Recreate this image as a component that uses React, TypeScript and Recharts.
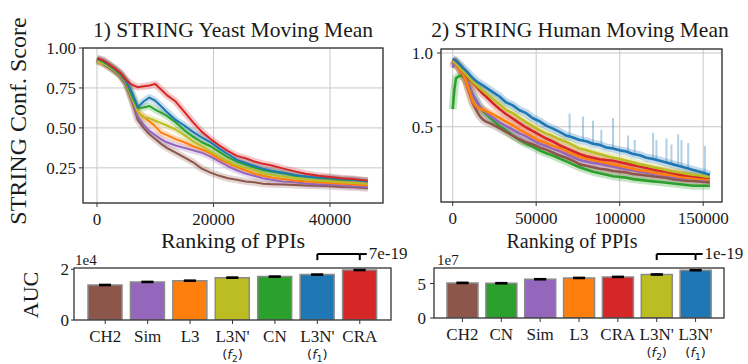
import React from 'react';
import {
  LineChart, Line, BarChart, Bar, XAxis, YAxis, CartesianGrid,
  ReferenceLine, ErrorBar, Cell,
} from 'recharts';

const serif = "'Liberation Serif', 'Times New Roman', serif";
const ink = '#1a1a1a';
const spine = '#333';

// matplotlib tab10
const blue = '#1f77b4', orange = '#ff7f0e', green = '#2ca02c', red = '#d62728',
  purple = '#9467bd', brown = '#8c564b', olive = '#bcbd22';

// ---- 1) yeast moving mean ----
const yeastX = [0, 1000, 2000, 3000, 4000, 5000, 6000, 7000, 8000, 9000, 10000, 11000, 12000, 13500, 15000, 16500, 18000, 19500, 21000, 22500, 24000, 25500, 27000, 28500, 30000, 32000, 34000, 36000, 38000, 40000, 42000, 44000, 46500];
const yeastCRA = [0.935, 0.925, 0.9, 0.875, 0.845, 0.8, 0.77, 0.755, 0.76, 0.765, 0.775, 0.74, 0.705, 0.665, 0.6, 0.535, 0.475, 0.43, 0.39, 0.355, 0.325, 0.31, 0.29, 0.275, 0.265, 0.245, 0.228, 0.212, 0.2, 0.193, 0.185, 0.18, 0.17];
const yeastF1 = [0.935, 0.92, 0.897, 0.87, 0.84, 0.795, 0.72, 0.63, 0.665, 0.69, 0.67, 0.635, 0.6, 0.55, 0.515, 0.475, 0.44, 0.41, 0.37, 0.335, 0.3, 0.28, 0.262, 0.245, 0.232, 0.22, 0.205, 0.196, 0.19, 0.186, 0.18, 0.176, 0.165];
const yeastCN = [0.93, 0.915, 0.893, 0.865, 0.835, 0.79, 0.7, 0.625, 0.628, 0.637, 0.615, 0.595, 0.575, 0.535, 0.485, 0.445, 0.41, 0.385, 0.35, 0.315, 0.29, 0.27, 0.252, 0.236, 0.226, 0.214, 0.2, 0.194, 0.186, 0.181, 0.176, 0.174, 0.168];
const yeastF2 = [0.915, 0.905, 0.885, 0.86, 0.83, 0.785, 0.69, 0.6, 0.565, 0.56, 0.545, 0.53, 0.515, 0.49, 0.455, 0.415, 0.385, 0.35, 0.32, 0.29, 0.265, 0.25, 0.235, 0.215, 0.205, 0.195, 0.185, 0.176, 0.17, 0.165, 0.16, 0.155, 0.15];
const yeastL3 = [0.925, 0.91, 0.89, 0.865, 0.835, 0.785, 0.69, 0.6, 0.57, 0.54, 0.51, 0.47, 0.455, 0.43, 0.41, 0.385, 0.365, 0.34, 0.305, 0.28, 0.255, 0.235, 0.215, 0.2, 0.19, 0.18, 0.17, 0.165, 0.16, 0.155, 0.15, 0.145, 0.14];
const yeastSim = [0.92, 0.905, 0.885, 0.86, 0.83, 0.78, 0.68, 0.57, 0.52, 0.48, 0.455, 0.43, 0.41, 0.39, 0.375, 0.36, 0.345, 0.32, 0.29, 0.26, 0.235, 0.215, 0.2, 0.185, 0.175, 0.165, 0.16, 0.15, 0.146, 0.145, 0.14, 0.135, 0.13];
const yeastCH2 = [0.92, 0.905, 0.88, 0.855, 0.825, 0.775, 0.67, 0.55, 0.5, 0.46, 0.43, 0.4, 0.375, 0.345, 0.315, 0.285, 0.245, 0.22, 0.2, 0.185, 0.175, 0.165, 0.16, 0.15, 0.148, 0.145, 0.143, 0.14, 0.138, 0.135, 0.13, 0.128, 0.122];

// ---- 2) human moving mean ----
const humanX = [0, 1000, 2000, 4000, 6000, 8000, 10000, 12000, 14000, 16000, 18000, 20000, 24000, 28000, 32000, 36000, 40000, 44000, 48000, 52000, 56000, 60000, 64000, 68000, 72000, 76000, 80000, 84000, 88000, 92000, 96000, 100000, 104000, 108000, 112000, 116000, 120000, 124000, 128000, 132000, 136000, 140000, 144000, 148000, 152000, 154000];
const humanF1 = [0.96, 0.955, 0.945, 0.925, 0.9, 0.88, 0.855, 0.83, 0.81, 0.795, 0.78, 0.765, 0.735, 0.705, 0.665, 0.645, 0.612, 0.592, 0.558, 0.537, 0.508, 0.487, 0.465, 0.44, 0.427, 0.41, 0.402, 0.385, 0.377, 0.36, 0.352, 0.34, 0.332, 0.315, 0.307, 0.29, 0.282, 0.27, 0.257, 0.245, 0.232, 0.22, 0.207, 0.195, 0.182, 0.175];
const humanF2 = [0.945, 0.94, 0.93, 0.905, 0.88, 0.855, 0.83, 0.805, 0.785, 0.765, 0.745, 0.725, 0.69, 0.652, 0.615, 0.592, 0.56, 0.532, 0.505, 0.477, 0.455, 0.437, 0.415, 0.397, 0.375, 0.352, 0.34, 0.327, 0.315, 0.302, 0.29, 0.282, 0.27, 0.257, 0.245, 0.237, 0.225, 0.217, 0.205, 0.197, 0.19, 0.182, 0.175, 0.17, 0.162, 0.16];
const humanCRA = [0.95, 0.945, 0.935, 0.91, 0.88, 0.85, 0.82, 0.8, 0.775, 0.75, 0.725, 0.705, 0.66, 0.62, 0.585, 0.555, 0.525, 0.495, 0.47, 0.445, 0.42, 0.4, 0.375, 0.355, 0.335, 0.315, 0.3, 0.29, 0.28, 0.275, 0.27, 0.26, 0.25, 0.24, 0.23, 0.22, 0.21, 0.2, 0.195, 0.185, 0.175, 0.17, 0.165, 0.16, 0.155, 0.155];
const humanL3 = [0.95, 0.94, 0.925, 0.895, 0.86, 0.81, 0.74, 0.67, 0.64, 0.625, 0.615, 0.605, 0.585, 0.56, 0.535, 0.51, 0.48, 0.455, 0.43, 0.405, 0.39, 0.37, 0.355, 0.335, 0.315, 0.295, 0.285, 0.275, 0.265, 0.255, 0.245, 0.235, 0.225, 0.215, 0.205, 0.2, 0.19, 0.18, 0.175, 0.17, 0.16, 0.155, 0.15, 0.148, 0.145, 0.145];
const humanSim = [0.9, 0.93, 0.93, 0.895, 0.86, 0.82, 0.77, 0.72, 0.68, 0.64, 0.615, 0.595, 0.56, 0.53, 0.505, 0.48, 0.455, 0.435, 0.41, 0.385, 0.37, 0.35, 0.335, 0.315, 0.295, 0.275, 0.265, 0.255, 0.25, 0.24, 0.23, 0.22, 0.21, 0.205, 0.195, 0.19, 0.18, 0.175, 0.17, 0.16, 0.155, 0.15, 0.148, 0.145, 0.14, 0.14];
const humanCH2 = [0.95, 0.94, 0.925, 0.895, 0.855, 0.81, 0.73, 0.66, 0.615, 0.575, 0.55, 0.535, 0.515, 0.49, 0.465, 0.44, 0.415, 0.395, 0.38, 0.36, 0.345, 0.325, 0.305, 0.29, 0.27, 0.245, 0.235, 0.225, 0.215, 0.21, 0.2, 0.195, 0.19, 0.18, 0.175, 0.17, 0.165, 0.16, 0.155, 0.145, 0.14, 0.135, 0.132, 0.13, 0.125, 0.125];
const humanCN = [0.62, 0.75, 0.83, 0.845, 0.845, 0.82, 0.77, 0.72, 0.68, 0.64, 0.61, 0.585, 0.545, 0.505, 0.475, 0.44, 0.41, 0.385, 0.365, 0.34, 0.32, 0.305, 0.285, 0.265, 0.245, 0.225, 0.21, 0.195, 0.185, 0.175, 0.165, 0.16, 0.155, 0.145, 0.14, 0.135, 0.13, 0.125, 0.12, 0.115, 0.11, 0.105, 0.1, 0.1, 0.1, 0.1];
// light blue spikes of the L3N'(f1) band
const spikeX = [70000, 78000, 84000, 89000, 96000, 105000, 109000, 120000, 122000, 128000, 131000, 135000, 137000, 141000, 151000];
const spikeLo = [0.43, 0.405, 0.385, 0.37, 0.35, 0.325, 0.315, 0.28, 0.275, 0.255, 0.25, 0.235, 0.23, 0.215, 0.185];
const spikeHi = [0.59, 0.57, 0.54, 0.48, 0.56, 0.44, 0.41, 0.46, 0.41, 0.42, 0.38, 0.45, 0.41, 0.39, 0.37];

// ---- AUC bars ----
const yeastMethods = ['CH2', 'Sim', 'L3', "L3N'(f2)", 'CN', "L3N'(f1)", 'CRA'];
const yeastAuc = [13800, 15000, 15500, 16700, 17100, 17900, 19700];
const yeastErr = [130, 120, 110, 140, 120, 110, 130];
const humanMethods = ['CH2', 'CN', 'Sim', 'L3', 'CRA', "L3N'(f2)", "L3N'(f1)"];
const humanAuc = [50900000, 50400000, 56200000, 58100000, 59600000, 63100000, 69300000];
const humanErr = [500000, 500000, 450000, 450000, 450000, 450000, 500000];

const methodColor: Record<string, string> = {
  CH2: brown, Sim: purple, L3: orange, "L3N'(f2)": olive, CN: green, "L3N'(f1)": blue, CRA: red,
};

type S = { key: string; color: string; values: number[] };
const yeastSeries: S[] = [
  { key: 'ch2', color: brown, values: yeastCH2 },
  { key: 'sim', color: purple, values: yeastSim },
  { key: 'l3', color: orange, values: yeastL3 },
  { key: 'f2', color: olive, values: yeastF2 },
  { key: 'cn', color: green, values: yeastCN },
  { key: 'f1', color: blue, values: yeastF1 },
  { key: 'cra', color: red, values: yeastCRA },
];
const humanSeries: S[] = [
  { key: 'cn', color: green, values: humanCN },
  { key: 'ch2', color: brown, values: humanCH2 },
  { key: 'sim', color: purple, values: humanSim },
  { key: 'l3', color: orange, values: humanL3 },
  { key: 'cra', color: red, values: humanCRA },
  { key: 'f2', color: olive, values: humanF2 },
  { key: 'f1', color: blue, values: humanF1 },
];

const toRows = (xs: number[], series: S[]) =>
  xs.map((x, i) => {
    const r: Record<string, number> = { x };
    series.forEach((s) => { r[s.key] = s.values[i]; });
    return r;
  });

const yeastRows = toRows(yeastX, yeastSeries);
const humanRows = toRows(humanX, humanSeries);
const spikeRows = spikeX.flatMap((x, i) => [
  { x, y: spikeLo[i] }, { x, y: spikeHi[i] }, { x, y: null },
]);
const yeastBars = yeastMethods.map((name, i) => ({ name, auc: yeastAuc[i], err: yeastErr[i] }));
const humanBars = humanMethods.map((name, i) => ({ name, auc: humanAuc[i], err: humanErr[i] }));

const tickFont = { fontFamily: serif, fontSize: 17, fill: ink };

function seriesLines(series: S[], bandW: number, lineW: number, bandOp: number) {
  const bands = series.map((s) => (
    <Line key={'b' + s.key} dataKey={s.key} stroke={s.color} strokeOpacity={bandOp} strokeWidth={bandW}
      strokeLinejoin="round" dot={false} activeDot={false} isAnimationActive={false} />
  ));
  const mains = series.map((s) => (
    <Line key={'m' + s.key} dataKey={s.key} stroke={s.color} strokeWidth={lineW}
      strokeLinejoin="round" dot={false} activeDot={false} isAnimationActive={false} />
  ));
  return [...bands, ...mains];
}

function MethodTick({ x, y, payload }: any) {
  const v: string = payload.value;
  const m = v.match(/^(.*)\(f(\d)\)$/);
  return (
    <g transform={`translate(${x},${y})`}>
      <text textAnchor="middle" y={16} fontFamily={serif} fontSize={17} fill={ink}>{m ? m[1] : v}</text>
      {m && (
        <text textAnchor="middle" y={33} fontFamily="'DejaVu Sans', sans-serif" fontSize={13} fill={ink}>
          (<tspan fontStyle="italic">f</tspan><tspan fontSize={9} dy={3}>{m[2]}</tspan><tspan dy={-3}>)</tspan>
        </text>
      )}
    </g>
  );
}

const pValueLabel = (txt: string) => (props: any) => {
  const vb = props.viewBox || {};
  const xe = (vb.x || 0) + (vb.width || 0);
  const y = vb.y || 0;
  return (
    <g>
      <line x1={xe} x2={xe + 7} y1={y} y2={y} stroke="#000" strokeWidth={2} />
      <text x={xe + 9} y={y} dy={5} fontFamily={serif} fontSize={17} fill={ink}>{txt}</text>
    </g>
  );
};

export default function App() {
  return (
    <div style={{ position: 'absolute', left: 0, top: 0, width: 748, height: 364, background: '#fff', overflow: 'hidden' }}>
      <div style={{ position: 'absolute', left: 0, top: 0 }}>
        <LineChart width={400} height={260} data={yeastRows} margin={{ top: 48, right: 17, bottom: 27, left: 23 }}>
          <CartesianGrid stroke="#c8c8c8" />
          <XAxis dataKey="x" type="number" domain={[-2400, 49100]} ticks={[0, 20000, 40000]} allowDataOverflow
            height={30} tickSize={4} tickMargin={6} axisLine={false} tickLine={{ stroke: spine }} tick={tickFont} />
          <YAxis type="number" domain={[0.03, 1]} ticks={[0.25, 0.5, 0.75, 1]} allowDataOverflow width={60}
            tickSize={4} tickMargin={3} axisLine={false} tickLine={{ stroke: spine }} tick={tickFont}
            tickFormatter={(v: number) => v.toFixed(2)} />
          {seriesLines(yeastSeries, 7, 2, 0.25)}
        </LineChart>
      </div>

      <div style={{ position: 'absolute', left: 380, top: 0 }}>
        <LineChart width={368} height={260} data={humanRows} margin={{ top: 49, right: 26, bottom: 28, left: 11 }}>
          <CartesianGrid stroke="#c8c8c8" />
          <XAxis dataKey="x" type="number" domain={[-7000, 161250]} ticks={[0, 50000, 100000, 150000]} allowDataOverflow
            height={30} tickSize={4} tickMargin={6} axisLine={false} tickLine={{ stroke: spine }} tick={tickFont} />
          <YAxis type="number" domain={[-0.01, 1.027]} ticks={[0.5, 1]} allowDataOverflow width={50}
            tickSize={4} tickMargin={4} axisLine={false} tickLine={{ stroke: spine }} tick={tickFont}
            tickFormatter={(v: number) => v.toFixed(1)} />
          {seriesLines(humanSeries, 8, 2.6, 0.28)}
          <Line data={spikeRows} dataKey="y" stroke={blue} strokeOpacity={0.35} strokeWidth={2}
            connectNulls={false} dot={false} activeDot={false} isAnimationActive={false} />
        </LineChart>
      </div>

      <div style={{ position: 'absolute', left: 0, top: 245 }}>
        <BarChart width={440} height={119} data={yeastBars} margin={{ top: 23, right: 49, bottom: 4, left: 44 }}>
          <XAxis dataKey="name" interval={0} padding={{ left: 10, right: 10 }} height={40} tickSize={4} tickMargin={2}
            axisLine={false} tickLine={{ stroke: spine }} tick={<MethodTick />} />
          <YAxis type="number" domain={[0, 20500]} ticks={[0, 20000]} allowDataOverflow width={30}
            tickSize={3} tickMargin={2} axisLine={false} tickLine={{ stroke: spine }} tick={tickFont}
            tickFormatter={(v: number) => String(v / 10000)} />
          <Bar dataKey="auc" barSize={34} stroke="#8a8a8a" strokeWidth={1.5} isAnimationActive={false}>
            {yeastBars.map((d) => <Cell key={d.name} fill={methodColor[d.name]} />)}
            <ErrorBar dataKey="err" width={6} stroke="#000" strokeWidth={2} />
          </Bar>
          <ReferenceLine segment={[{ x: "L3N'(f1)", y: 26000 }, { x: 'CRA', y: 26000 }]} stroke="#000" strokeWidth={2}
            ifOverflow="visible" label={pValueLabel('7e-19')} />
          <ReferenceLine segment={[{ x: "L3N'(f1)", y: 26000 }, { x: "L3N'(f1)", y: 23600 }]} stroke="#000" strokeWidth={2} ifOverflow="visible" />
          <ReferenceLine segment={[{ x: 'CRA', y: 26000 }, { x: 'CRA', y: 23600 }]} stroke="#000" strokeWidth={2} ifOverflow="visible" />
        </BarChart>
      </div>

      <div style={{ position: 'absolute', left: 390, top: 245 }}>
        <BarChart width={358} height={119} data={humanBars} margin={{ top: 23, right: 24, bottom: 4, left: 14 }}>
          <XAxis dataKey="name" interval={0} padding={{ left: 9, right: 9 }} height={42} tickSize={4} tickMargin={2}
            axisLine={false} tickLine={{ stroke: spine }} tick={<MethodTick />} />
          <YAxis type="number" domain={[0, 72500000]} ticks={[0, 50000000]} allowDataOverflow width={30}
            tickSize={4} tickMargin={4} axisLine={false} tickLine={{ stroke: spine }} tick={tickFont}
            tickFormatter={(v: number) => String(v / 10000000)} />
          <Bar dataKey="auc" barSize={31} stroke="#8a8a8a" strokeWidth={1.5} isAnimationActive={false}>
            {humanBars.map((d) => <Cell key={d.name} fill={methodColor[d.name]} />)}
            <ErrorBar dataKey="err" width={6} stroke="#000" strokeWidth={2} />
          </Bar>
          <ReferenceLine segment={[{ x: "L3N'(f2)", y: 92800000 }, { x: "L3N'(f1)", y: 92800000 }]} stroke="#000" strokeWidth={2}
            ifOverflow="visible" label={pValueLabel('1e-19')} />
          <ReferenceLine segment={[{ x: "L3N'(f2)", y: 92800000 }, { x: "L3N'(f2)", y: 84000000 }]} stroke="#000" strokeWidth={2} ifOverflow="visible" />
          <ReferenceLine segment={[{ x: "L3N'(f1)", y: 92800000 }, { x: "L3N'(f1)", y: 84000000 }]} stroke="#000" strokeWidth={2} ifOverflow="visible" />
        </BarChart>
      </div>

      <svg width={748} height={364} style={{ position: 'absolute', left: 0, top: 0, pointerEvents: 'none' }}>
        {/* axes frames */}
        <g fill="none" stroke={spine} strokeWidth={1.3}>
          <rect x={83} y={48} width={300} height={155} />
          <rect x={441} y={49} width={281} height={153} />
          <rect x={74} y={268} width={317} height={52} />
          <rect x={434} y={268} width={290} height={50} />
        </g>
        <g fontFamily={serif} fill={ink}>
          <text x={233} y={37} fontSize={21.5} textAnchor="middle">1) STRING Yeast Moving Mean</text>
          <text x={580} y={37} fontSize={21.5} textAnchor="middle">2) STRING Human Moving Mean</text>
          <text transform="translate(26,121) rotate(-90)" fontSize={24} textAnchor="middle">STRING Conf. Score</text>
          <text x={233} y={248} fontSize={22} textAnchor="middle">Ranking of PPIs</text>
          <text x={572} y={248} fontSize={20} textAnchor="middle">Ranking of PPIs</text>
          <text transform="translate(38,295) rotate(-90)" fontSize={22} textAnchor="middle">AUC</text>
          <text x={75} y={265} fontSize={15}>1e4</text>
          <text x={437} y={265} fontSize={15}>1e7</text>
        </g>
      </svg>
    </div>
  );
}
